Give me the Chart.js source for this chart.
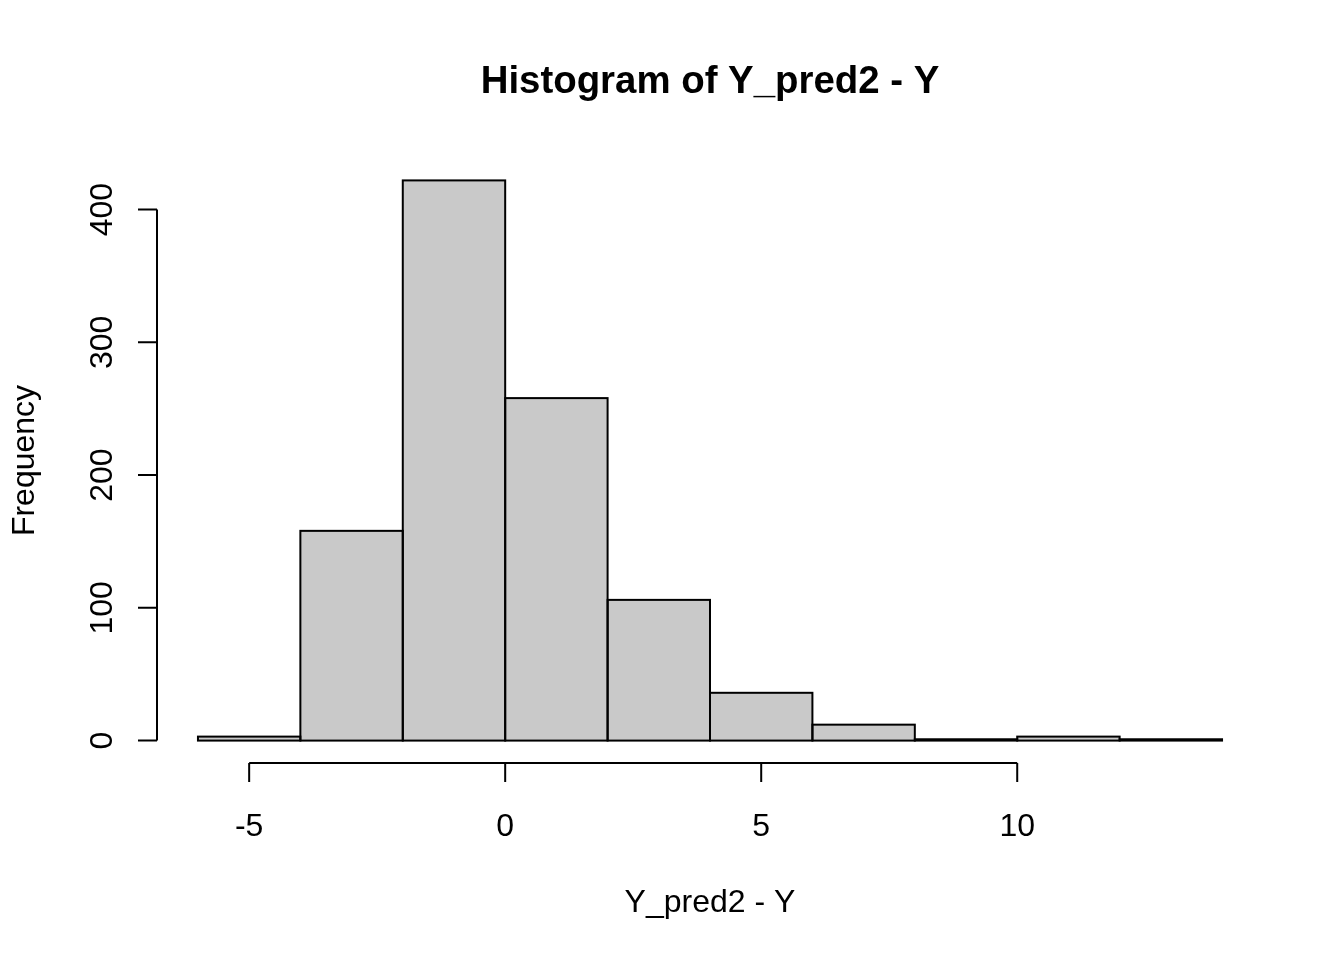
<!DOCTYPE html>
<html>
<head>
<meta charset="utf-8">
<script src="https://cdn.jsdelivr.net/npm/chart.js@4/dist/chart.umd.min.js"></script>
<style>
html,body{margin:0;padding:0;background:#fff;}
canvas{display:block;}
</style>
</head>
<body>
<canvas id="c" width="1344" height="960"></canvas>
<script>
// Histogram data (bin breaks and counts)
const breaks = [-6, -4, -2, 0, 2, 4, 6, 8, 10, 12, 14];
const counts = [3, 158, 422, 258, 106, 36, 12, 1, 3, 1];
const xTicks = [-5, 0, 5, 10];
const yTicks = [0, 100, 200, 300, 400];
const titleText = "Histogram of Y_pred2 - Y";
const xLabel = "Y_pred2 - Y";
const yLabel = "Frequency";

const FONT = '"Liberation Sans", Arial, Helvetica, sans-serif';

const points = counts.map((c, i) => ({ x: (breaks[i] + breaks[i + 1]) / 2, y: c }));

// R-style extension of the ranges by 4%
const xMin = breaks[0], xMax = breaks[breaks.length - 1];
const xPad = (xMax - xMin) * 0.04;
const yTop = Math.max(...counts);
const yPad = yTop * 0.04;

// outline the library's bar elements with a centred stroke (as R's rect does)
const barOutline = {
  id: 'barOutline',
  afterDatasetsDraw(chart) {
    const ctx = chart.ctx;
    const meta = chart.getDatasetMeta(0);
    ctx.save();
    ctx.strokeStyle = '#000';
    ctx.lineWidth = 2;
    meta.data.forEach(bar => {
      const p = bar.getProps(['x', 'y', 'base', 'width'], true);
      ctx.strokeRect(p.x - p.width / 2, p.y, p.width, p.base - p.y);
    });
    ctx.restore();
  }
};

const rAxes = {
  id: 'rAxes',
  afterDraw(chart) {
    const ctx = chart.ctx;
    const xs = chart.scales.x, ys = chart.scales.y;
    const area = chart.chartArea;
    const tick = 19;
    ctx.save();
    ctx.strokeStyle = '#000';
    ctx.fillStyle = '#000';
    ctx.lineWidth = 2;
    ctx.lineCap = 'butt';

    // x axis
    const ax = area.bottom;
    ctx.beginPath();
    ctx.moveTo(xs.getPixelForValue(xTicks[0]), ax);
    ctx.lineTo(xs.getPixelForValue(xTicks[xTicks.length - 1]), ax);
    xTicks.forEach(v => {
      const px = xs.getPixelForValue(v);
      ctx.moveTo(px, ax);
      ctx.lineTo(px, ax + tick);
    });
    ctx.stroke();
    ctx.font = '32px ' + FONT;
    ctx.textAlign = 'center';
    ctx.textBaseline = 'alphabetic';
    xTicks.forEach(v => {
      ctx.fillText(String(v), xs.getPixelForValue(v), 836);
    });

    // y axis
    const ay = area.left;
    ctx.beginPath();
    ctx.moveTo(ay, ys.getPixelForValue(yTicks[0]));
    ctx.lineTo(ay, ys.getPixelForValue(yTicks[yTicks.length - 1]));
    yTicks.forEach(v => {
      const py = ys.getPixelForValue(v);
      ctx.moveTo(ay, py);
      ctx.lineTo(ay - tick, py);
    });
    ctx.stroke();
    yTicks.forEach(v => {
      const py = ys.getPixelForValue(v);
      ctx.save();
      ctx.translate(112, py);
      ctx.rotate(-Math.PI / 2);
      ctx.fillText(String(v), 0, 0);
      ctx.restore();
    });

    const cx = (area.left + area.right) / 2;
    const cy = (area.top + area.bottom) / 2;
    // axis titles
    ctx.fillText(xLabel, cx, 912);
    ctx.save();
    ctx.translate(34, cy);
    ctx.rotate(-Math.PI / 2);
    ctx.fillText(yLabel, 0, 0);
    ctx.restore();

    // main title
    ctx.font = 'bold 38.4px ' + FONT;
    ctx.fillText(titleText, cx, 93);
    ctx.restore();
  }
};

new Chart(document.getElementById('c'), {
  type: 'bar',
  data: {
    datasets: [{
      data: points,
      backgroundColor: '#c9c9c9',
      borderWidth: 0,
      barPercentage: 1,
      categoryPercentage: 1
    }]
  },
  options: {
    responsive: false,
    animation: false,
    devicePixelRatio: 1,
    layout: { padding: { left: 157, right: 81, top: 158, bottom: 197 } },
    plugins: { legend: { display: false }, tooltip: { enabled: false }, title: { display: false } },
    scales: {
      x: {
        type: 'linear', display: false, offset: false, min: xMin - xPad, max: xMax + xPad,
        afterBuildTicks: (scale) => { scale.ticks = breaks.map(v => ({ value: v })); }
      },
      y: { type: 'linear', display: false, min: -yPad, max: yTop + yPad }
    }
  },
  plugins: [barOutline, rAxes]
});
</script>
</body>
</html>
